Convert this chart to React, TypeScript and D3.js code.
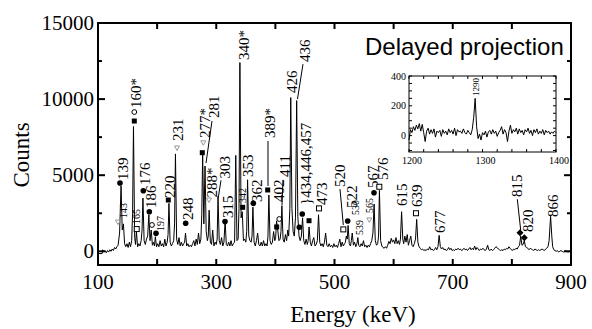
import { useEffect, useRef } from 'react'
import * as d3 from 'd3'

const W = 592
const H = 329

// main spectrum, [energy keV, counts]
const spectrum: [number, number][] = [
  [100, 200], [101, -150], [107, -150], [108, 100], [110, -50], [112, 50], [114, -100], [116, 50], [118, -50],
  [120, 100], [122, 0], [124, 150], [126, 50], [128, 250], [130, 150], [132, 300], [134, 400], [136.5, 1200],
  [139, 4300], [141, 1400], [143, 1800], [145, 500], [147, 300], [149, 500], [151, 250], [153, 600], [155, 300],
  [157, 700], [158.5, 2500], [160, 8200], [162, 900], [163.5, 450], [165, 1300], [167, 300], [169, 500], [171, 350],
  [173, 700], [174.5, 1400], [176, 3500], [178, 700], [180, 450], [182, 800], [184, 1000], [186, 2400], [188, 700],
  [190, 1400], [192, 400], [194, 600], [195.5, 350], [197, 950], [199, 300], [201, 500], [203, 300], [205, 700],
  [207, 350], [209, 500], [211, 300], [213, 800], [215, 350], [217, 600], [218.5, 1100], [220, 3150], [222, 600],
  [224, 350], [226, 500], [228, 700], [229.5, 1800], [231, 6400], [233, 800], [235, 450], [237, 900], [239, 350],
  [241, 600], [243, 350], [245, 500], [246.5, 600], [248, 1200], [250, 350], [252, 500], [254, 300], [256, 400],
  [258, 300], [260, 500], [262, 700], [264, 350], [266, 800], [268, 450], [270, 1200], [272, 500], [274, 800],
  [275.5, 2400], [277, 6400], [279, 1800], [281, 5600], [283, 1300], [285, 700], [286.5, 1000], [288, 2700],
  [290, 600], [292, 450], [294, 1400], [296, 350], [298, 600], [300, 450], [301.5, 800], [303, 3600], [305, 700],
  [307, 450], [309, 900], [311, 350], [313, 600], [315, 2000], [317, 450], [319, 350], [321, 600], [323, 350],
  [325, 700], [327, 350], [329, 500], [331, 600], [333, 6300], [335, 700], [337, 800], [338.5, 2800], [340, 12400],
  [342, 2200], [344, 2600], [346, 700], [348, 800], [350, 600], [351.5, 1300], [353, 4700], [355, 1000], [357, 700],
  [359, 600], [360.5, 1000], [362, 2900], [364, 600], [366, 350], [368, 700], [370, 1200], [372, 450], [374, 350],
  [376, 600], [378, 350], [380, 700], [382, 350], [384, 500], [386, 350], [387.5, 1000], [389, 3700], [391, 700],
  [393, 450], [395, 600], [397, 1300], [399, 700], [400.5, 900], [402, 2000], [404, 1400], [406, 700], [408, 800],
  [409.5, 1300], [411, 3000], [413, 800], [415, 600], [417, 1100], [419, 700], [421, 1400], [422.5, 1000],
  [424.5, 2800], [426, 10100], [428, 2800], [430, 1300], [432, 1000], [434, 2200], [436, 9900], [438, 2300],
  [440, 1000], [442, 700], [444, 1000], [446, 2200], [448, 700], [450, 450], [452, 800], [454, 450], [455.5, 700],
  [457, 1600], [459, 600], [461, 350], [463, 700], [465, 900], [467, 350], [469, 450], [471, 700], [473, 2400],
  [475, 600], [477, 350], [479, 500], [481, 300], [483, 600], [485, 1200], [487, 400], [489, 300], [491, 500],
  [493, 300], [495, 400], [497, 250], [499, 500], [501, 300], [503, 400], [505, 250], [507, 500], [509, 800],
  [511, 300], [513, 600], [515, 350], [517, 500], [518.5, 600], [520, 1000], [521.5, 800], [523, 1700], [525, 500],
  [527, 350], [528.5, 700], [530, 1200], [532, 400], [534, 600], [536, 300], [538, 500], [539.5, 900], [541, 400],
  [543, 300], [545, 500], [547, 350], [549, 700], [551, 300], [553, 400], [555, 250], [557, 400], [559, 300],
  [561, 500], [563, 700], [565, 1200], [567, 3100], [569, 700], [571, 400], [573, 500], [574.5, 1000], [576, 4000],
  [578, 700], [580, 350], [582, 250], [584, 200], [586, 300], [588, 200], [590, 400], [592, 650], [594, 500],
  [596, 850], [598, 600], [600, 750], [602, 500], [604, 900], [606, 500], [608, 700], [610, 450], [611.5, 800],
  [613.5, 2600], [615.5, 800], [617, 500], [619, 1000], [621, 600], [623, 1100], [625, 400], [627, 700], [629, 1000],
  [631, 400], [633, 300], [635, 500], [637, 800], [639, 2100], [641, 600], [643, 300], [645, 200], [647, 100],
  [649, 150], [651, 50], [653, 100], [655, 50], [657, 150], [659, 100], [661, 300], [663, 100], [665, 150],
  [667, 50], [669, 100], [671, 250], [673, 100], [675, 300], [677, 1050], [679, 300], [681, 150], [683, 250],
  [685, 100], [687, 150], [689, 50], [691, 100], [693, 250], [695, 100], [697, 200], [699, 50], [701, 100],
  [703, 50], [705, 150], [707, 100], [709, 200], [711, 100], [713, 150], [715, 50], [717, 100], [719, 200],
  [721, 100], [723, 150], [725, 50], [727, 150], [729, 250], [731, 100], [733, 200], [735, 100], [737, 350],
  [739, 100], [741, 250], [743, 150], [745, 50], [747, 150], [749, 100], [751, 200], [753, 100], [755, 50],
  [757, 150], [759, 400], [761, 100], [763, 50], [765, 150], [767, 50], [769, 100], [771, 200], [773, 300],
  [775, 250], [777, 150], [779, 100], [781, 50], [783, 100], [785, 50], [787, 150], [789, 100], [791, 200],
  [793, 150], [795, 300], [797, 200], [799, 100], [801, 50], [803, 150], [805, 100], [807, 200], [809, 150],
  [811, 300], [813, 400], [815, 1000], [817, 400], [819, 450], [821, 700], [823, 300], [825, 250], [827, 200],
  [829, 100], [831, 200], [833, 150], [835, 100], [837, 50], [839, 150], [841, 100], [843, 50], [845, 100],
  [847, 50], [849, 100], [851, 150], [853, 100], [855, 50], [857, 150], [859, 200], [861, 300], [863, 700],
  [865.5, 2300], [867.5, 1000], [869, 300], [871, 100], [873, 50], [875, 0], [877, 50], [879, -50], [881, 0],
  [883, 50], [885, 0], [887, -50], [889, 0], [891, 50], [893, 0], [895, -50], [897, 0], [899, 50], [900, 0]
]

// delayed projection, one value per 2 keV channel from 1200 keV
const insetStart = 1200
const insetStep = 2
const insetCounts = [
  -30, 40, 20, 60, 35, 70, 45, 80, 30, 75, 20, -40, 30, 50, 10, 40, 15, 45, -10, 30,
  20, 35, -5, 40, 15, 30, 5, 45, 20, 35, 10, 50, 0, 40, 25, 30, 15, 45, 20, 10,
  35, 20, 5, 40, 120, 250, 60, -20, 10, -30, 20, 5, 30, -10, 25, 35, 10, 40, 15, 30,
  -5, 20, 35, 60, 10, 40, 20, -40, 30, 70, 15, 40, 25, 50, 10, 45, 20, 35, 5, 40,
  25, 50, 15, 35, 0, 40, 20, 45, 10, 30, 15, 40, 5, 35, 20, 30, 10, 25, 15, 30, 20
]

const xTicks = [100, 200, 300, 400, 500, 600, 700, 800, 900]
const xTickLabels = [100, 300, 500, 700, 900]
const yTicks = [0, 2500, 5000, 7500, 10000, 12500, 15000]
const yTickLabels = [0, 5000, 10000, 15000]
const insetXTickLabels = [1200, 1300, 1400]
const insetYTickLabels = [0, 200, 400]

type Label = { text: string; e: number; c: number; small?: boolean }
const peakLabels: Label[] = [
  { text: '139', e: 142.8, c: 4680 },
  { text: '143', e: 142.3, c: 2190, small: true },
  { text: '160*', e: 165, c: 9420 },
  { text: '165', e: 165.5, c: 1790, small: true },
  { text: '176', e: 179.5, c: 4360 },
  { text: '186', e: 189.6, c: 2850 },
  { text: '197', e: 204.9, c: 1330, small: true },
  { text: '220', e: 221.8, c: 3500 },
  { text: '231', e: 234.5, c: 7250 },
  { text: '248', e: 252.7, c: 2060 },
  { text: '277*', e: 281, c: 7440 },
  { text: '281', e: 296.2, c: 8760 },
  { text: '288*', e: 292.3, c: 3540 },
  { text: '303', e: 314.8, c: 4790 },
  { text: '315', e: 320.4, c: 2190 },
  { text: '340*', e: 346.9, c: 12570 },
  { text: '342', e: 344.7, c: 3170, small: true },
  { text: '353', e: 354.2, c: 4880 },
  { text: '362', e: 368.4, c: 3240 },
  { text: '389*', e: 390.9, c: 7440 },
  { text: '402', e: 406.1, c: 3240 },
  { text: '411', e: 416.3, c: 4880 },
  { text: '426', e: 427.6, c: 10400 },
  { text: '436', e: 450.1, c: 12440 },
  { text: '}434,446,457', e: 452.6, c: 3040 },
  { text: '473', e: 478.4, c: 3040 },
  { text: '520', e: 509.3, c: 4220 },
  { text: '522', e: 529.1, c: 2850 },
  { text: '530', e: 534.7, c: 2390, small: true },
  { text: '539', e: 543.1, c: 1070, small: true },
  { text: '565', e: 560, c: 2520, small: true },
  { text: '567', e: 565.6, c: 4160 },
  { text: '576', e: 582.5, c: 4690 },
  { text: '615', e: 615, c: 2980 },
  { text: '639', e: 639, c: 2910 },
  { text: '677', e: 678.4, c: 1200 },
  { text: '815', e: 808.2, c: 3570 },
  { text: '820', e: 827.8, c: 1270 },
  { text: '866', e: 870.1, c: 2250 }
]

type Marker = { kind: 'dot' | 'square' | 'openSquare' | 'openCircle' | 'tri' | 'diamond'; e: number; c: number }
const markers: Marker[] = [
  { kind: 'dot', e: 137.2, c: 4490 },
  { kind: 'tri', e: 133.8, c: 1920 },
  { kind: 'square', e: 161.4, c: 8560 },
  { kind: 'openCircle', e: 161.4, c: 9150 },
  { kind: 'openSquare', e: 165.5, c: 1460 },
  { kind: 'dot', e: 176.6, c: 3980 },
  { kind: 'dot', e: 186.8, c: 2600 },
  { kind: 'openCircle', e: 191.3, c: 1730 },
  { kind: 'dot', e: 198.1, c: 1180 },
  { kind: 'square', e: 218.9, c: 3370 },
  { kind: 'tri', e: 233.6, c: 6790 },
  { kind: 'dot', e: 248.3, c: 1840 },
  { kind: 'square', e: 276.4, c: 6480 },
  { kind: 'tri', e: 278.1, c: 7130 },
  { kind: 'tri', e: 287.7, c: 3370 },
  { kind: 'dot', e: 314.8, c: 1950 },
  { kind: 'square', e: 344.7, c: 2890 },
  { kind: 'dot', e: 362.7, c: 3150 },
  { kind: 'square', e: 387, c: 4030 },
  { kind: 'openCircle', e: 406.6, c: 2120 },
  { kind: 'square', e: 402.2, c: 1600 },
  { kind: 'dot', e: 440.5, c: 1580 },
  { kind: 'dot', e: 445.5, c: 2450 },
  { kind: 'square', e: 456.9, c: 2010 },
  { kind: 'openSquare', e: 473.8, c: 2820 },
  { kind: 'openSquare', e: 514.9, c: 1440 },
  { kind: 'dot', e: 522.3, c: 1990 },
  { kind: 'tri', e: 558.9, c: 2060 },
  { kind: 'dot', e: 566.8, c: 3850 },
  { kind: 'openSquare', e: 575.8, c: 4240 },
  { kind: 'openSquare', e: 637.8, c: 2500 },
  { kind: 'diamond', e: 813.7, c: 1220 },
  { kind: 'diamond', e: 821, c: 890 }
]

// leader lines [e1, c1, e2, c2]
const leaders: [number, number, number, number][] = [
  [292.8, 8560, 282.7, 5800],
  [308, 4660, 303.5, 3540],
  [387.5, 7250, 387.5, 4290],
  [412.9, 4690, 411.2, 3040],
  [446.7, 12300, 437.4, 10000],
  [509.3, 4090, 514.9, 1730],
  [809.2, 3420, 814.9, 1400]
]

const serif = "'Liberation Serif', 'Times New Roman', serif"
const sans = "'Liberation Sans', Arial, sans-serif"

export default function App() {
  const svgRef = useRef<SVGSVGElement>(null)

  useEffect(() => {
    if (!svgRef.current) return
    const svg = d3.select(svgRef.current)
    svg.selectAll('*').remove()

    const left = 98, right = 571, top = 23, bottom = 265
    const x = d3.scaleLinear().domain([100, 900]).range([left, right])
    const y = d3.scaleLinear().domain([-900, 15000]).range([bottom, top])

    // Spectrum
    const line = d3.line<[number, number]>()
      .x(d => x(d[0]))
      .y(d => y(d[1]))
    svg.append('path')
      .datum(spectrum)
      .attr('d', line)
      .style('fill', 'none')
      .style('stroke', '#000')
      .style('stroke-width', '1px')
      .style('stroke-linejoin', 'round')

    // Frame
    svg.append('rect')
      .attr('x', left)
      .attr('y', top)
      .attr('width', right - left)
      .attr('height', bottom - top)
      .style('fill', 'none')
      .style('stroke', '#000')
      .style('stroke-width', '2px')

    // X ticks, inward on bottom and top
    xTicks.forEach(t => {
      svg.append('line')
        .attr('x1', x(t)).attr('x2', x(t))
        .attr('y1', bottom).attr('y2', bottom - 6)
        .style('stroke', '#000').style('stroke-width', '2px')
      svg.append('line')
        .attr('x1', x(t)).attr('x2', x(t))
        .attr('y1', top).attr('y2', top + 6)
        .style('stroke', '#000').style('stroke-width', '2px')
    })
    xTickLabels.forEach(t => {
      svg.append('text')
        .attr('x', x(t))
        .attr('y', 289)
        .attr('text-anchor', 'middle')
        .style('font-family', serif)
        .style('font-size', '21px')
        .text(t)
    })

    // Y ticks
    yTicks.forEach(t => {
      const len = t % 5000 === 0 ? 7 : 4
      svg.append('line')
        .attr('x1', left).attr('x2', left + len)
        .attr('y1', y(t)).attr('y2', y(t))
        .style('stroke', '#000').style('stroke-width', '2px')
      svg.append('line')
        .attr('x1', right).attr('x2', right - len)
        .attr('y1', y(t)).attr('y2', y(t))
        .style('stroke', '#000').style('stroke-width', '2px')
    })
    yTickLabels.forEach(t => {
      svg.append('text')
        .attr('x', 94)
        .attr('y', y(t) + 7)
        .attr('text-anchor', 'end')
        .style('font-family', serif)
        .style('font-size', '21px')
        .text(t)
    })

    // Axis titles
    svg.append('text')
      .attr('transform', 'translate(21,155) rotate(-90)')
      .attr('text-anchor', 'middle')
      .attr('dominant-baseline', 'central')
      .style('font-family', serif)
      .style('font-size', '23px')
      .text('Counts')
    svg.append('text')
      .attr('x', 353)
      .attr('y', 322)
      .attr('text-anchor', 'middle')
      .style('font-family', serif)
      .style('font-size', '23px')
      .text('Energy (keV)')

    // Leader lines
    leaders.forEach(([e1, c1, e2, c2]) => {
      svg.append('line')
        .attr('x1', x(e1)).attr('y1', y(c1))
        .attr('x2', x(e2)).attr('y2', y(c2))
        .style('stroke', '#000').style('stroke-width', '1px')
    })

    // Peak labels, rotated
    peakLabels.forEach(l => {
      svg.append('text')
        .attr('transform', `translate(${x(l.e)},${y(l.c)}) rotate(-90)`)
        .attr('text-anchor', 'start')
        .attr('dominant-baseline', 'central')
        .style('font-family', serif)
        .style('font-size', l.small ? '10px' : '15px')
        .text(l.text)
    })

    // Markers
    markers.forEach(m => {
      const cx = x(m.e), cy = y(m.c)
      if (m.kind === 'dot') {
        svg.append('circle').attr('cx', cx).attr('cy', cy).attr('r', 2.8).style('fill', '#000')
      } else if (m.kind === 'openCircle') {
        svg.append('circle').attr('cx', cx).attr('cy', cy).attr('r', 2.4)
          .style('fill', '#fff').style('stroke', '#000').style('stroke-width', '1px')
      } else if (m.kind === 'square') {
        svg.append('rect').attr('x', cx - 2.5).attr('y', cy - 2.5).attr('width', 5).attr('height', 5)
          .style('fill', '#000')
      } else if (m.kind === 'openSquare') {
        svg.append('rect').attr('x', cx - 2.5).attr('y', cy - 2.5).attr('width', 5).attr('height', 5)
          .style('fill', '#fff').style('stroke', '#000').style('stroke-width', '1px')
      } else if (m.kind === 'tri') {
        svg.append('path')
          .attr('d', `M${cx - 2.5},${cy - 2} L${cx + 2.5},${cy - 2} L${cx},${cy + 2.5} Z`)
          .style('fill', 'none').style('stroke', '#999').style('stroke-width', '1px')
      } else {
        svg.append('path')
          .attr('d', `M${cx},${cy - 3.5} L${cx + 3.5},${cy} L${cx},${cy + 3.5} L${cx - 3.5},${cy} Z`)
          .style('fill', '#000')
      }
    })

    // Inset title
    svg.append('text')
      .attr('x', 365)
      .attr('y', 55)
      .style('font-family', sans)
      .style('font-size', '24px')
      .text('Delayed projection')

    // Inset
    const il = 409, ir = 556, it = 76, ib = 152
    const ix = d3.scaleLinear().domain([1200, 1400]).range([il, ir])
    const iy = d3.scaleLinear().domain([-110, 400]).range([ib, it])
    const insetLine = d3.line<number>()
      .x((_, i) => ix(insetStart + i * insetStep))
      .y(d => iy(d))
    svg.append('path')
      .datum(insetCounts)
      .attr('d', insetLine)
      .style('fill', 'none')
      .style('stroke', '#000')
      .style('stroke-width', '1px')
    svg.append('rect')
      .attr('x', il).attr('y', it)
      .attr('width', ir - il).attr('height', ib - it)
      .style('fill', 'none').style('stroke', '#000').style('stroke-width', '1px')
    d3.range(1200, 1401, 20).forEach(t => {
      svg.append('line').attr('x1', ix(t)).attr('x2', ix(t)).attr('y1', ib).attr('y2', ib - 3)
        .style('stroke', '#000').style('stroke-width', '1px')
      svg.append('line').attr('x1', ix(t)).attr('x2', ix(t)).attr('y1', it).attr('y2', it + 3)
        .style('stroke', '#000').style('stroke-width', '1px')
    })
    d3.range(-100, 401, 50).forEach(t => {
      svg.append('line').attr('x1', il).attr('x2', il + 3).attr('y1', iy(t)).attr('y2', iy(t))
        .style('stroke', '#000').style('stroke-width', '1px')
      svg.append('line').attr('x1', ir).attr('x2', ir - 3).attr('y1', iy(t)).attr('y2', iy(t))
        .style('stroke', '#000').style('stroke-width', '1px')
    })
    insetXTickLabels.forEach(t => {
      svg.append('text')
        .attr('x', ix(t) + 3)
        .attr('y', 164)
        .attr('text-anchor', 'middle')
        .style('font-family', serif)
        .style('font-size', '10px')
        .text(t)
    })
    insetYTickLabels.forEach(t => {
      svg.append('text')
        .attr('x', 406)
        .attr('y', iy(t) + 3.5)
        .attr('text-anchor', 'end')
        .style('font-family', serif)
        .style('font-size', '10px')
        .text(t)
    })
    svg.append('text')
      .attr('transform', `translate(${ix(1290) + 1},${iy(265)}) rotate(-90)`)
      .attr('text-anchor', 'start')
      .attr('dominant-baseline', 'central')
      .style('font-family', serif)
      .style('font-size', '9px')
      .text('1290')
  }, [])

  return (
    <svg
      ref={svgRef}
      width={W}
      height={H}
      style={{ position: 'absolute', left: 0, top: 0, background: '#fff' }}
    />
  )
}
